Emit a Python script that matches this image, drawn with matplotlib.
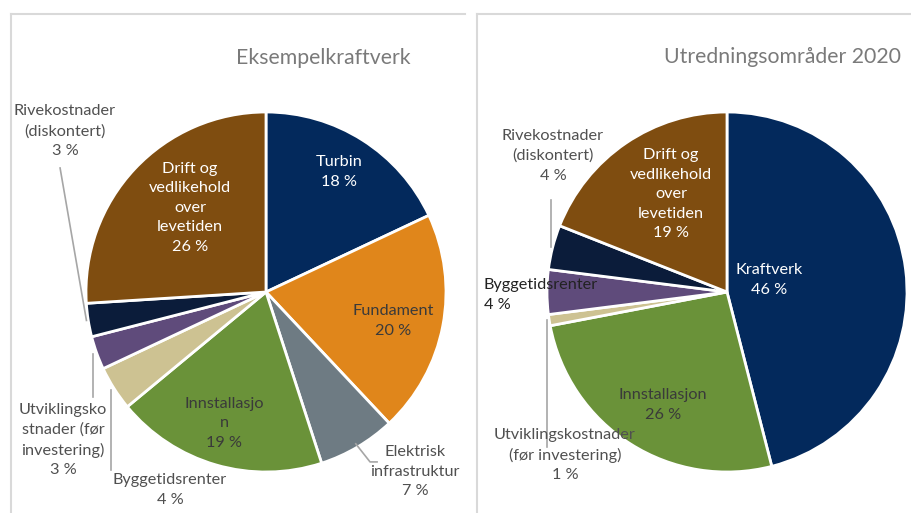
import numpy as np
import matplotlib
matplotlib.use("Agg")
import matplotlib.pyplot as plt
from matplotlib.lines import Line2D

plt.rcParams["font.family"] = ["Lato", "DejaVu Sans"]

#%% Data
left_title = "Eksempelkraftverk"
left_labels = ["Turbin", "Fundament", "Elektrisk\ninfrastruktur", "Innstallasjo\nn",
               "Byggetidsrenter", "Utviklingsko\nstnader (før\ninvestering)",
               "Rivekostnader\n(diskontert)", "Drift og\nvedlikehold\nover\nlevetiden"]
left_values = [18, 20, 7, 19, 4, 3, 3, 26]
left_colors = ["#03295c", "#e0861b", "#6e7b83", "#6a9239",
               "#cdc292", "#5f4b7b", "#0b1c3a", "#7f4d10"]

right_title = "Utredningsområder 2020"
right_labels = ["Kraftverk", "Innstallasjon", "Utviklingskostnader\n(før investering)",
                "Byggetidsrenter", "Rivekostnader\n(diskontert)",
                "Drift og\nvedlikehold\nover\nlevetiden"]
right_values = [46, 26, 1, 4, 4, 19]
right_colors = ["#03295c", "#6a9239", "#cdc292", "#5f4b7b", "#0b1c3a", "#7f4d10"]

W, H = 912, 513
R = 180  # pie radius in px

fig = plt.figure(figsize=(W / 100, H / 100), dpi=100)

# panel frames
border = "#d9d9d9"
fig.add_artist(Line2D([11 / W, 11 / W], [0, 1 - 14 / H], color=border, lw=1.5))
fig.add_artist(Line2D([11 / W, 465 / W], [1 - 14 / H, 1 - 14 / H], color=border, lw=1.5))
fig.add_artist(Line2D([477 / W, 477 / W], [0, 1 - 14 / H], color=border, lw=1.5))
fig.add_artist(Line2D([477 / W, 910 / W], [1 - 14 / H, 1 - 14 / H], color=border, lw=1.5))


def pie_axes(cx, cy):
    ax = fig.add_axes([(cx - R) / W, (H - cy - R) / H, 2 * R / W, 2 * R / H])
    return ax


def mid(w, r=1.0):
    a = np.deg2rad((w.theta1 + w.theta2) / 2)
    return r * np.cos(a), r * np.sin(a)


fs = 11.7
ls = 1.5
grey_txt = "#505050"
dark_txt = "#3a3a3a"
lead = "#a6a6a6"

#%% Left pie
ax1 = pie_axes(266, 292)
w1, _ = ax1.pie(left_values, colors=left_colors, startangle=90, counterclock=False,
                wedgeprops=dict(edgecolor="white", linewidth=2))
ax1.set_xlim(-1, 1)
ax1.set_ylim(-1, 1)
fig.text(323 / W, 1 - 58 / H, left_title, ha="center", va="center",
         fontsize=15.3, color="#7a7a7a")

pct = [f"{v} %" for v in left_values]
# positions of the labels (axes data units, 1 = radius)
lpos = [(0.406, 0.667), (0.706, -0.161), (0.828, -1.0), (-0.233, -0.728),
        (-0.533, -1.1), (-1.128, -0.822), (-1.117, 0.894), (-0.422, 0.467)]
lcol = ["white", dark_txt, grey_txt, dark_txt, grey_txt, grey_txt, grey_txt, "white"]
for lab, p, (x, y), c in zip(left_labels, pct, lpos, lcol):
    ax1.text(x, y, lab + "\n" + p, ha="center", va="center", fontsize=fs,
             color=c, linespacing=ls, clip_on=False)

# leader lines
x, y = mid(w1[2], 0.98)
ax1.plot([x, 0.578, 0.617], [y, -0.944, -0.944], color=lead, lw=1.2, clip_on=False)
x, y = mid(w1[4], 1.02)
ax1.plot([x, x], [y, -0.989], color=lead, lw=1.2, clip_on=False)
x, y = mid(w1[5], 1.02)
ax1.plot([x, x], [y, -0.583], color=lead, lw=1.2, clip_on=False)
x, y = mid(w1[6], 1.01)
ax1.plot([x, -1.144], [y, 0.689], color=lead, lw=1.2, clip_on=False)

#%% Right pie
ax2 = pie_axes(727, 292)
w2, _ = ax2.pie(right_values, colors=right_colors, startangle=90, counterclock=False,
                wedgeprops=dict(edgecolor="white", linewidth=2))
ax2.set_xlim(-1, 1)
ax2.set_ylim(-1, 1)
fig.text(783 / W, 1 - 57 / H, right_title, ha="center", va="center",
         fontsize=15.3, color="#7a7a7a")

pct = [f"{v} %" for v in right_values]
rpos = [(0.233, 0.067), (-0.356, -0.628), (-0.9, -0.906),
        (-1.35, -0.017), (-0.967, 0.756), (-0.311, 0.544)]
rcol = ["white", dark_txt, grey_txt, "#222222", grey_txt, "white"]
for lab, p, (x, y), c in zip(right_labels, pct, rpos, rcol):
    ha = "left" if lab == "Byggetidsrenter" else "center"
    ax2.text(x, y, lab + "\n" + p, ha=ha, va="center", fontsize=fs, color=c,
             linespacing=ls, multialignment=ha, clip_on=False)

x, y = mid(w2[2], 1.01)
ax2.plot([x, x], [y, -0.861], color=lead, lw=1.2, clip_on=False)
x, y = mid(w2[4], 1.01)
ax2.plot([x, x], [y, 0.511], color=lead, lw=1.2, clip_on=False)

fig.savefig("out.png", dpi=100)
